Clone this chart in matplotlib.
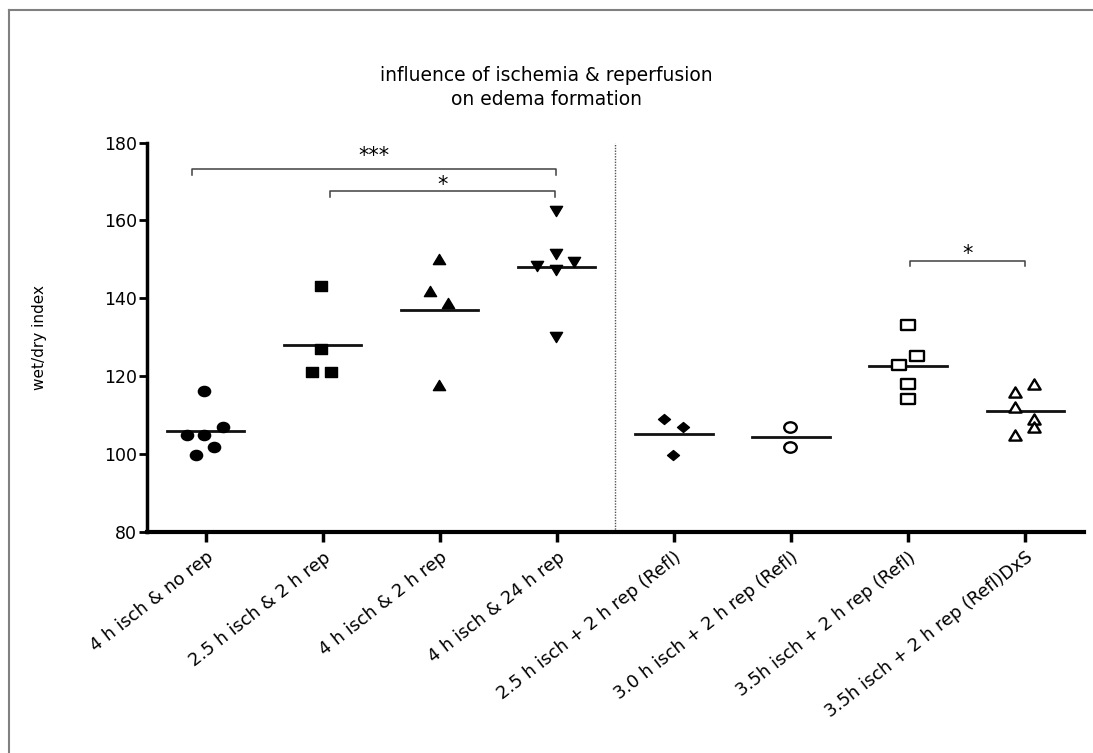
import numpy as np
import matplotlib.pyplot as plt
from matplotlib.lines import Line2D
from matplotlib.markers import MarkerStyle
from matplotlib.transforms import Affine2D

plt.rcParams['font.family'] = ['DejaVu Sans']

# group labels
groups = ['4 h isch & no rep', '2.5 h isch & 2 h rep', '4 h isch & 2 h rep',
          '4 h isch & 24 h rep', '2.5 h isch + 2 h rep (Refl)',
          '3.0 h isch + 2 h rep (Refl)', '3.5h isch + 2 h rep (Refl)',
          '3.5h isch + 2 h rep (Refl)DxS']

# wet/dry index per animal
g1 = [116.1, 104.9, 104.9, 107.0, 101.9, 99.8]
g2 = [143.1, 127.0, 121.0, 121.0]
g3 = [150.1, 141.9, 138.7, 117.7]
g4 = [162.5, 151.4, 148.3, 149.3, 147.4, 130.1]
g5 = [109.0, 106.8, 99.8]
g6 = [106.8, 101.9]
g7 = [133.1, 125.1, 122.9, 118.0, 114.1]
g8 = [118.0, 115.8, 112.0, 109.0, 106.8, 104.9]
values = [g1, g2, g3, g4, g5, g6, g7, g8]

# significance brackets: (group a, group b, height, label)
brackets = [(0, 3, 173.2, '***'), (1, 3, 167.5, '*'), (6, 7, 149.7, '*')]

# scatter spread (layout only)
spread = [[-0.01, -0.16, -0.01, 0.145, 0.07, -0.085],
          [-0.01, -0.01, -0.09, 0.07],
          [-0.01, -0.085, 0.07, -0.01],
          [-0.01, -0.01, -0.165, 0.145, -0.01, -0.01],
          [-0.085, 0.075, -0.005],
          [-0.01, -0.01],
          [0.0, 0.075, -0.08, 0.0, 0.0],
          [0.075, -0.085, -0.085, 0.075, 0.075, -0.085]]
br_shift = [(-0.115, -0.007, 3.5), (0.06, -0.015, 1.6), (0.013, 0.0, 1.6)]


def wide(m, k=1.2):
    # markers look a bit stretched sideways in the original
    ms = MarkerStyle(m)
    p = ms.get_path().transformed(ms.get_transform())
    return p.transformed(Affine2D().scale(k, 1.0))


styles = [dict(marker=wide('o'), ms=8.8, mfc='black'),
          dict(marker=wide('s'), ms=8.4, mfc='black'),
          dict(marker=wide('^'), ms=8.8, mfc='black'),
          dict(marker=wide('v'), ms=8.8, mfc='black'),
          dict(marker=wide('D'), ms=8.6, mfc='black'),
          dict(marker=wide('o'), ms=9.0, mfc='white', mew=1.7),
          dict(marker=wide('s'), ms=9.5, mfc='white', mew=1.7),
          dict(marker=wide('^'), ms=8.8, mfc='white', mew=1.7)]

fig = plt.figure(figsize=(10.93, 7.53), dpi=100)
ax = fig.add_axes([0.1345, 0.2939, 0.857, 0.5166])

for i, (v, off, st) in enumerate(zip(values, spread, styles)):
    x = i + np.array(off)
    ax.plot(x, v, linestyle='none', color='black', mec='black', **st, zorder=3)
    m = np.mean(v)
    ax.plot([i - 0.33, i + 0.33], [m, m], color='#111111', lw=2.0, zorder=2)

for (a, b, h, lab), (sa, sb, dy) in zip(brackets, br_shift):
    xa, xb = a + sa, b + sb
    ax.plot([xa, xa, xb, xb], [h - 1.5, h, h, h - 1.5], color='#404040', lw=1.1)
    ax.text((xa + xb) / 2, h + dy, lab, ha='center', va='center', fontsize=15)

ax.axvline(3.5, color='#555555', lw=1.0, linestyle=(0, (1, 1)))

ax.set_xlim(-0.5, 7.5)
ax.set_ylim(80, 180)
ax.set_yticks(np.arange(80, 181, 20))
ax.set_xticks(range(len(groups)))
ax.set_xticklabels(groups, rotation=38, ha='right', va='top',
                   rotation_mode='anchor', fontsize=12.8)
ax.tick_params(axis='y', labelsize=12.5, length=6, width=2, pad=1)
ax.tick_params(axis='x', length=7, width=2.5, pad=5)
ax.spines['top'].set_visible(False)
ax.spines['right'].set_visible(False)
ax.spines['left'].set_linewidth(2.5)
ax.spines['bottom'].set_linewidth(3)
ax.set_ylabel('wet/dry index', fontsize=11)
ax.yaxis.set_label_coords(-0.107, 0.5)

fig.text(0.5, 0.8838, 'influence of ischemia & reperfusion\non edema formation',
         ha='center', va='center', fontsize=13.5, linespacing=1.35)

# frame around the picture
fig.add_artist(Line2D([0.0078, 0.0078], [0, 0.9866], color='#808080', lw=1.5))
fig.add_artist(Line2D([0.0078, 1], [0.9866, 0.9866], color='#808080', lw=1.5))

fig.savefig('out.png', dpi=100)
